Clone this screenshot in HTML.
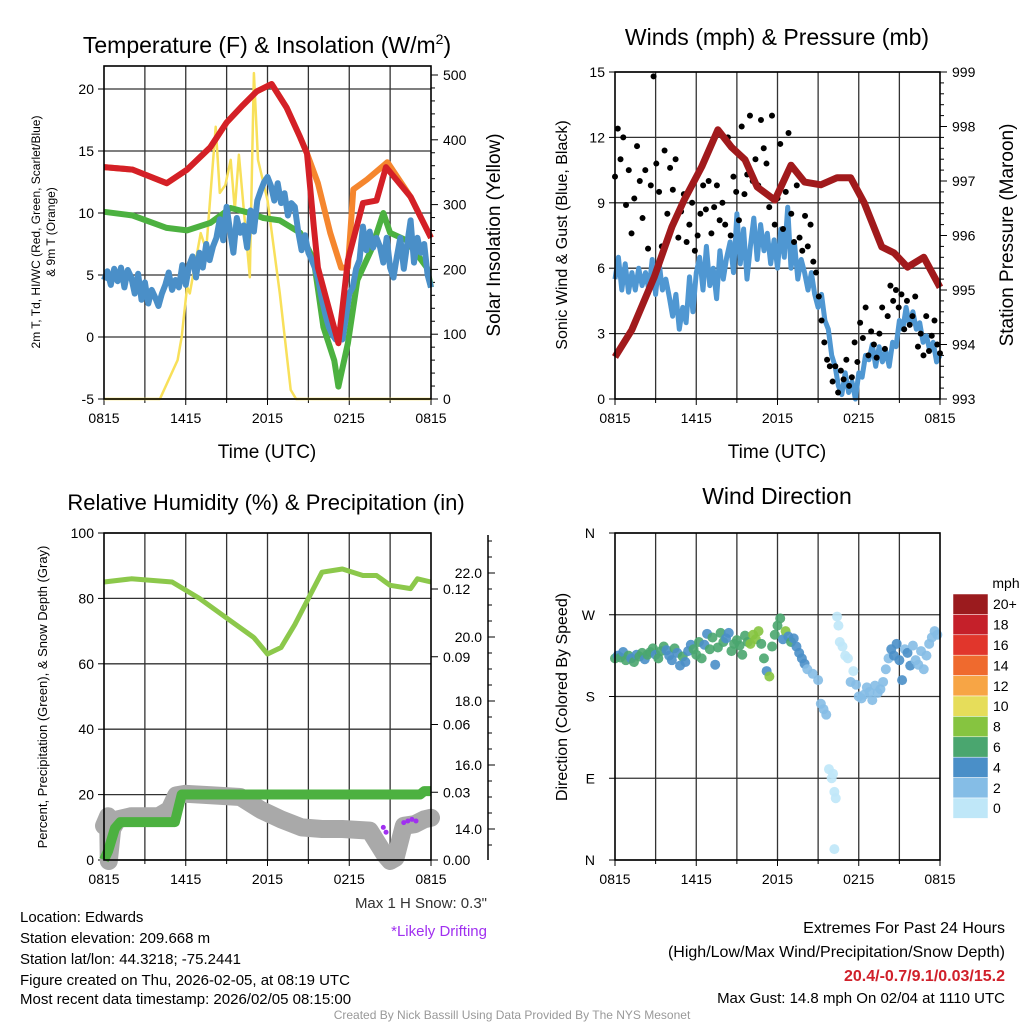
<!DOCTYPE html>
<html><head><meta charset="utf-8"><style>
body{margin:0;background:#fff}
svg{font-family:"Liberation Sans",sans-serif;display:block}
</style></head><body>
<svg id="s" width="1024" height="1024" viewBox="0 0 1024 1024">
<g id="g1"></g>
<g id="g2"></g>
<g id="g3"></g>
<g id="g4"></g>
<g id="txt">
<text x="20" y="922" font-size="15">Location: Edwards</text>
<text x="20" y="943" font-size="15">Station elevation: 209.668 m</text>
<text x="20" y="964" font-size="15">Station lat/lon: 44.3218; -75.2441</text>
<text x="20" y="985" font-size="15">Figure created on Thu, 2026-02-05, at 08:19 UTC</text>
<text x="20" y="1004" font-size="15">Most recent data timestamp: 2026/02/05 08:15:00</text>
<text x="487" y="908" font-size="15" fill="#333" text-anchor="end">Max 1 H Snow: 0.3"</text>
<text x="487" y="936" font-size="15" fill="#a030f0" text-anchor="end">*Likely Drifting</text>
<text x="1005" y="933" font-size="16" text-anchor="end">Extremes For Past 24 Hours</text>
<text x="1005" y="957" font-size="16" text-anchor="end">(High/Low/Max Wind/Precipitation/Snow Depth)</text>
<text x="1005" y="981" font-size="16" font-weight="bold" fill="#d0202a" text-anchor="end">20.4/-0.7/9.1/0.03/15.2</text>
<text x="1005" y="1003" font-size="15" text-anchor="end">Max Gust: 14.8 mph On 02/04 at 1110 UTC</text>
<text x="512" y="1019" font-size="12" fill="#999" text-anchor="middle">Created By Nick Bassill Using Data Provided By The NYS Mesonet</text>
</g>
</svg>
<script>
// ---------- data ----------
const xTickLabels=["0815","1415","2015","0215","0815"];
const tHours=[0,2.1,4.6,6.1,7.8,9,10.2,11.2,12.3,13.4,14.4,14.9,15.4,15.7,16.6,17.2,17.9,19,20,20.7,22.5,24];
const tempT=[13.7,13.5,12.4,13.5,15.3,17.3,18.7,19.8,20.4,18.5,16.1,14.8,8.9,5.6,1.9,-0.5,6.2,10.8,11,13.7,11.3,8];
const t9Hours=[0,2.1,4.6,6.1,7.8,9,10.2,11.2,12.3,13.4,14.4,14.9,15.7,16.6,17.4,17.9,18.3,19.3,20.8,22.5,24];
const temp9=[13.7,13.5,12.4,13.5,15.3,17.3,18.7,19.8,20.4,18.5,16.1,14.8,12.4,8.4,5.6,5.6,11.9,12.7,14.1,11.3,8];
const tdHours=[0,2.1,4.6,6.1,7.8,9.3,10.7,11.7,12.9,14.4,15.4,16.1,16.9,17.2,17.9,18.6,19.6,20.5,21,22.2,23.7,24];
const dewT=[10.1,9.8,8.8,8.6,9.2,10.4,10,9.6,9.4,8.4,6.2,0.8,-1.9,-4,-0.5,4.6,7,10,8.4,7.8,5.6,4];
const hiwc=[4.6,5.3,4.2,5.5,4.5,5.6,4.0,5.4,4.8,
3.5,5.1,3.0,4.4,2.7,3.8,3.2,2.5,
3.5,4.2,5.2,3.8,4.6,4.0,5.8,4.2,
5.8,6.5,4.8,6.8,5.6,7.5,6.2,7.3,
8.0,9.5,7.8,10.5,8.6,6.8,9.6,8.4,
9.0,7.2,10.2,8.5,11.0,11.8,12.5,12.9,
12.2,11.0,12.4,10.8,11.6,9.8,10.8,10.5,
8.5,7.0,8.2,6.8,6.2,5.5,4.5,3.0,
1.8,0.8,0.2,-0.2,0.0,-0.2,1.5,3.5,
4.0,5.5,6.2,8.9,7.0,8.5,7.2,8.0,
7.3,6.0,8.0,5.6,4.8,6.5,8.0,5.5,
7.5,9.4,6.0,8.0,6.8,7.5,5.0,4.0];
const solarHours=[0,4.1,5.4,5.7,6.1,6.3,7.1,7.5,8.2,8.5,8.9,9.3,9.6,9.9,10.7,11,11.3,12,12.9,13.7,14.1,24];
const solar=[0,0,60,96,173,163,256,230,420,318,330,369,292,377,188,503,369,307,163,14,0,0];
const solarTicks=[0,100,200,300,400,500];
const tempTicks=[-5,0,5,10,15,20];

const windSpd=[5.5,6.5,5.0,6.2,4.9,5.8,5.0,6.0,5.2,
5.8,5.0,6.4,4.8,6.3,5.0,5.5,4.7,
3.8,4.8,3.2,4.2,3.5,5.6,4.0,5.8,
6.5,5.0,7.0,5.2,6.0,4.6,6.8,5.5,
6.5,7.2,5.8,8.5,6.2,7.8,5.5,7.0,
8.3,6.4,8.0,6.8,7.6,6.2,7.3,6.0,
7.8,6.5,8.8,6.0,7.2,5.5,6.4,5.8,
5.0,5.8,4.8,4.2,4.8,3.6,3.2,2.0,
1.5,0.6,0.2,1.2,0.3,0.8,0.0,1.2,
1.0,2.0,1.8,2.5,1.5,2.4,1.7,2.2,
1.5,2.6,2.4,3.6,3.2,4.2,3.4,4.0,
3.2,3.5,2.6,2.9,2.2,2.6,1.7,2.0];
const gusts=[10.2,12.4,11.0,12.0,8.9,10.5,7.6,9.2,11.6,10.0,8.3,
10.5,6.9,9.8,14.8,10.8,9.5,7.0,11.4,8.5,
10.6,9.6,11.0,7.4,8.6,9.4,7.2,8.0,9.0,
6.8,7.5,8.5,9.8,8.7,10.0,7.6,8.8,9.8,8.2,
9.0,8.0,12.0,7.5,10.2,9.5,8.2,12.5,9.4,10.3,
13.0,10.0,11.0,9.8,12.8,11.5,10.8,8.8,13.0,8.0,
9.2,11.7,7.8,9.5,12.2,8.5,7.2,9.8,7.4,6.8,
8.4,7.0,8.0,6.3,5.8,4.7,3.6,2.6,1.8,1.5,
0.8,1.5,0.3,1.3,0.9,1.8,0.6,1.0,2.6,1.7,
3.5,2.8,4.2,2.0,3.1,2.5,1.9,3.0,4.2,2.3,
3.8,5.2,4.5,5.0,4.2,4.8,3.2,4.5,3.4,3.8,
4.7,2.4,3.0,2.0,3.8,2.2,2.9,3.6,2.5,2.1];
const presHours=[0,1.25,2.9,4.2,5.1,6.4,7.6,8.6,9.6,10.5,11.8,13,14,15.2,16.4,17.4,18.4,19.7,20.6,21.6,22.8,24];
const pressure=[993.77,994.27,995.24,996.16,996.65,997.26,997.94,997.62,997.39,996.89,996.65,997.29,996.98,996.93,997.06,997.06,996.6,995.79,995.68,995.42,995.6,995.05];
const windTicks=[0,3,6,9,12,15];
const presTicks=[993,994,995,996,997,998,999];

const rhHours=[0,2,5,7,9,11,12,13,14,15,16,17.5,19,20,21,22.5,23,24];
const rh=[85,86,85,80,74,68,63,65,72,80,88,89,87,87,84,83,86,85];
const precipHours=[0,0.3,0.8,1.2,5.2,5.7,23.2,23.5,24];
const precip=[0,0.004,0.014,0.0168,0.0168,0.029,0.029,0.0305,0.0305];
const snowHours=[0,0.3,0.35,0.6,1,2,4,4.8,5.3,6,8,10,11.5,13,14.5,16,17.5,19.5,20.6,21,21.4,22,22.8,23.5,24];
const snowDepth=[14.1,14.4,13.0,14.0,14.3,14.4,14.4,14.6,15.05,15.1,15.05,15.0,14.6,14.3,14.05,14.0,14.0,13.95,13.2,13.0,13.1,14.1,14.15,14.3,14.35];
const driftHours=[20.5,20.7,22.0,22.3,22.6,22.9];
const driftDepth=[14.05,13.9,14.2,14.25,14.3,14.25];
const rhTicks=[0,20,40,60,80,100];
const precipTicks=["0.00","0.03","0.06","0.09","0.12"];
const snowTicks=["14.0","16.0","18.0","20.0","22.0"];

const dirHours=[0,0.2,0.4,0.6,0.8,1,1.2,1.4,1.6,1.8,2,2.2,2.4,2.6,2.8,3,3.2,3.4,3.6,3.8,4,4.2,4.4,4.6,4.8,5,5.2,5.4,5.6,5.8,6,6.2,6.4,6.6,6.8,7,7.2,7.4,7.6,7.8,8,8.2,8.4,8.6,8.8,9,9.2,9.4,9.6,9.8,10,10.2,10.4,10.6,10.8,11,11.2,11.4,11.6,11.8,12,12.2,12.4,12.6,12.8,13,13.2,13.4,13.6,13.8,14,14.2,14.6,15,15.2,15.4,15.6,15.8,16,16.1,16.2,16.3,16.2,16.4,16.5,16.6,16.8,17,17.2,17.4,17.6,17.8,18,18.2,18.4,18.6,18.8,19,19.2,19.4,19.6,19.8,20,20.2,20.4,20.6,20.8,21,21.2,21.4,21.6,21.8,22,22.2,22.4,22.6,22.8,23,23.2,23.4,23.6,23.8];
const dirDeg=[222,225,223,229,220,225,222,218,226,224,228,221,226,229,233,226,222,230,235,231,225,220,233,228,214,224,218,230,237,232,226,240,222,237,249,232,245,215,234,250,240,244,250,230,238,242,236,226,247,240,238,248,243,252,238,222,208,202,235,248,258,266,243,252,246,240,244,235,228,222,216,210,205,198,172,166,160,100,90,95,75,68,12,268,258,240,235,225,222,196,208,193,180,178,182,190,185,176,192,184,188,196,210,222,232,225,238,220,198,232,228,214,236,220,215,230,210,225,238,245,252,248];
const dirSpd=[6,5,6,4,6,6,5,6,5,6,6,5,6,6,6,5,6,6,6,5,5,5,6,4,5,6,4,5,4,6,6,6,6,5,5,6,6,5,6,6,6,5,4,6,6,6,6,6,6,6,9,9,8,9,6,6,4,8,6,6,6,6,5,9,4,6,4,4,4,5,4,3,3,2,3,2,2,1,1,1,1,1,1,1,1,1,1,1,1,2,1,3,3,3,2,3,2,2,2,3,2,3,3,3,4,5,4,5,4,3,4,4,3,2,3,3,2,2,3,2,3,2];
const cbLabels=["20+","18","16","14","12","10","8","6","4","2","0"];
const cbColors=["#9b1b1e","#c5202a","#e1362c","#ef6a2e","#f7a545","#e6dd5a","#86c440","#4aa66f","#4a8fc8","#85bde6","#bfe7f8"];

// ---------- helpers ----------
const NS="http://www.w3.org/2000/svg";
function mk(parent,tag,attrs,name,txt){const e=document.createElementNS(NS,tag);for(const k in attrs)e.setAttribute(k,attrs[k]);


if(txt!==undefined)e.textContent=txt;parent.appendChild(e);return e;}
function lin(d0,d1,r0,r1){return v=>r0+(v-d0)/(d1-d0)*(r1-r0);}
function pathOf(xs,ys,fx,fy){return xs.map((h,i)=>(i?'L':'M')+fx(h).toFixed(1)+','+fy(ys[i]).toFixed(1)).join('');}
function frame(g,L,T,R,B,xf){
  for(let h=3;h<24;h+=3){mk(g,'line',{x1:xf(h),x2:xf(h),y1:T,y2:B,stroke:'#333','stroke-width':1.3},'v-grid');}
  xTickLabels.forEach((l,i)=>{const x=xf(i*6);mk(g,'line',{x1:x,x2:x,y1:B,y2:B+6,stroke:'#000'},'x-tick');
    mk(g,'text',{x:x,y:B+24,'font-size':14,'text-anchor':'middle'},'x-tick-label',l);});
  for(let h=3;h<24;h+=3){if(h%6)mk(g,'line',{x1:xf(h),x2:xf(h),y1:B,y2:B+4,stroke:'#000'},'x-minor-tick');}
}
function box(g,L,T,R,B){mk(g,'rect',{x:L,y:T,width:R-L,height:B-T,fill:'none',stroke:'#000','stroke-width':1.6},'plot-frame');}
function vtext(g,x,y,s,size,name){const t=mk(g,'text',{x:0,y:0,'font-size':size,'text-anchor':'middle',transform:`translate(${x},${y}) rotate(-90)`},name,s);return t;}

// ---------- panel 1 ----------
(function(){const g=document.getElementById('g1');const L=104,R=431,T=66,B=399;
 const xf=lin(0,24,L,R),yf=lin(-5,20,399,89),ys=lin(0,500,399,75);
 frame(g,L,T,R,B,xf);
 tempTicks.forEach(v=>{const y=yf(v);mk(g,'line',{x1:L,x2:R,y1:y,y2:y,stroke:'#333','stroke-width':1.3},'h-grid');
  mk(g,'line',{x1:L-6,x2:L,y1:y,y2:y,stroke:'#000'},'y-tick');
  mk(g,'text',{x:L-10,y:y+5,'font-size':14,'text-anchor':'end'},'y-tick-label',v);});
 for(let v=0;v<=520;v+=20){const y=ys(v);if(y<T)continue;const maj=v%100===0;mk(g,'line',{x1:R,x2:R+(maj?7:4),y1:y,y2:y,stroke:'#000'},'y2-tick');
  if(maj)mk(g,'text',{x:R+12,y:y+5,'font-size':14},'y2-tick-label',v);}
 mk(g,'path',{d:pathOf(solarHours,solar,xf,ys),fill:'none',stroke:'#f8e05a','stroke-width':2.5,'stroke-linejoin':'round'},'solar-line');
 mk(g,'path',{d:pathOf(tdHours,dewT,xf,yf),fill:'none',stroke:'#4cb140','stroke-width':6,'stroke-linejoin':'round'},'dewpoint-line');
 mk(g,'path',{d:pathOf(hiwc.map((_,i)=>i*0.25),hiwc,xf,yf),fill:'none',stroke:'#4a8fc8','stroke-width':6,'stroke-linejoin':'round'},'windchill-line');
 mk(g,'path',{d:pathOf(t9Hours,temp9,xf,yf),fill:'none',stroke:'#f5862e','stroke-width':6,'stroke-linejoin':'round'},'temp-9m-line');
 mk(g,'path',{d:pathOf(tHours,tempT,xf,yf),fill:'none',stroke:'#d42027','stroke-width':6,'stroke-linejoin':'round'},'temp-2m-line');
 box(g,L,T,R,B);
 const t=mk(g,'text',{x:267,y:53,'font-size':23,'text-anchor':'middle'},'title','Temperature (F) & Insolation (W/m');
 const sp=document.createElementNS(NS,'tspan');sp.setAttribute('dy','-9');sp.setAttribute('font-size','14');sp.textContent='2';t.appendChild(sp);
 const sp2=document.createElementNS(NS,'tspan');sp2.setAttribute('dy','9');sp2.textContent=')';t.appendChild(sp2);
 mk(g,'text',{x:267,y:458,'font-size':19,'text-anchor':'middle'},'x-axis-title','Time (UTC)');
 vtext(g,40,232,'2m T, Td, HI/WC (Red, Green, Scarlet/Blue)',12,'y-axis-title');
 vtext(g,55,232,'& 9m T (Orange)',12,'y-axis-title-2');
 vtext(g,500,235,'Solar Insolation (Yellow)',19,'y2-axis-title');
})();

// ---------- panel 2 ----------
(function(){const g=document.getElementById('g2');const L=615,R=940,T=72,B=399;
 const xf=lin(0,24,L,R),yf=lin(0,15,399,72),yp=lin(993,999,399,72);
 frame(g,L,T,R,B,xf);
 windTicks.forEach(v=>{const y=yf(v);mk(g,'line',{x1:L,x2:R,y1:y,y2:y,stroke:'#333','stroke-width':1.3},'h-grid');
  mk(g,'line',{x1:L-6,x2:L,y1:y,y2:y,stroke:'#000'},'y-tick');
  mk(g,'text',{x:L-10,y:y+5,'font-size':14,'text-anchor':'end'},'y-tick-label',v);});
 for(let v=993;v<=999.001;v+=0.2){const y=yp(v);const maj=Math.abs(v-Math.round(v))<0.01;mk(g,'line',{x1:R,x2:R+(maj?7:4),y1:y,y2:y,stroke:'#000'},'y2-tick');
  if(maj)mk(g,'text',{x:R+12,y:y+5,'font-size':14},'y2-tick-label',Math.round(v));}
 mk(g,'path',{d:pathOf(windSpd.map((_,i)=>i*0.25),windSpd,xf,yf),fill:'none',stroke:'#4f97d2','stroke-width':5,'stroke-linejoin':'round'},'wind-line');
 gusts.forEach((v,i)=>{mk(g,'circle',{cx:xf(i*24/(gusts.length-1)),cy:yf(v),r:3,fill:'#000'},'gust-point');});
 mk(g,'path',{d:pathOf(presHours,pressure,xf,yp),fill:'none',stroke:'#a11a1c','stroke-width':7,'stroke-linejoin':'round'},'pressure-line');
 box(g,L,T,R,B);
 mk(g,'text',{x:777,y:45,'font-size':23,'text-anchor':'middle'},'title','Winds (mph) & Pressure (mb)');
 mk(g,'text',{x:777,y:458,'font-size':19,'text-anchor':'middle'},'x-axis-title','Time (UTC)');
 vtext(g,567,235,'Sonic Wind & Gust (Blue, Black)',16,'y-axis-title');
 vtext(g,1013,235,'Station Pressure (Maroon)',19,'y2-axis-title');
})();

// ---------- panel 3 ----------
(function(){const g=document.getElementById('g3');const L=104,R=431,T=533,B=860;
 const xf=lin(0,24,L,R),yf=lin(0,100,860,533),ypr=lin(0,0.12,860,589),ysn=lin(14,22,829,573);
 frame(g,L,T,R,B,xf);
 rhTicks.forEach(v=>{const y=yf(v);mk(g,'line',{x1:L,x2:R,y1:y,y2:y,stroke:'#333','stroke-width':1.3},'h-grid');
  mk(g,'line',{x1:L-6,x2:L,y1:y,y2:y,stroke:'#000'},'y-tick');
  mk(g,'text',{x:L-10,y:y+5,'font-size':14,'text-anchor':'end'},'y-tick-label',v);});
 precipTicks.forEach(v=>{const y=ypr(+v);mk(g,'line',{x1:R,x2:R+7,y1:y,y2:y,stroke:'#000'},'precip-tick');
  mk(g,'text',{x:R+12,y:y+5,'font-size':14},'precip-tick-label',v);});
 mk(g,'line',{x1:488,x2:488,y1:535,y2:860,stroke:'#000','stroke-width':1.5},'snow-axis');
 for(let v=13;v<=23;v+=0.5){const y=ysn(v);if(y<535||y>860)continue;const maj=Math.abs(v%2)<0.01;mk(g,'line',{x1:488,x2:488+(maj?7:4),y1:y,y2:y,stroke:'#000'},'snow-tick');}
 snowTicks.forEach(v=>{const y=ysn(+v);mk(g,'text',{x:482,y:y+5,'font-size':14,'text-anchor':'end'},'snow-tick-label',v);});
 mk(g,'path',{d:pathOf(snowHours,snowDepth,xf,ysn),fill:'none',stroke:'#a9a9a9','stroke-width':18,'stroke-linejoin':'round','stroke-linecap':'round'},'snow-depth-line');
 mk(g,'path',{d:pathOf(precipHours,precip,xf,ypr),fill:'none',stroke:'#4cb140','stroke-width':10,'stroke-linejoin':'round'},'precip-line');
 mk(g,'path',{d:pathOf(rhHours,rh,xf,yf),fill:'none',stroke:'#8cc84b','stroke-width':5,'stroke-linejoin':'round'},'rh-line');
 driftHours.forEach((h,i)=>{mk(g,'circle',{cx:xf(h),cy:ysn(driftDepth[i]),r:2.5,fill:'#a030f0'},'drift-point');});
 box(g,L,T,R,B);
 mk(g,'text',{x:266,y:510,'font-size':22,'text-anchor':'middle'},'title','Relative Humidity (%) & Precipitation (in)');
 vtext(g,47,697,'Percent, Precipitation (Green), & Snow Depth (Gray)',13,'y-axis-title');
})();

// ---------- panel 4 ----------
(function(){const g=document.getElementById('g4');const L=615,R=940,T=533,B=860;
 const xf=lin(0,24,L,R),yf=lin(0,360,860,533);
 frame(g,L,T,R,B,xf);
 ["N","E","S","W","N"].forEach((l,i)=>{const y=yf(i*90);mk(g,'line',{x1:L,x2:R,y1:y,y2:y,stroke:'#333','stroke-width':1.3},'h-grid');
  mk(g,'line',{x1:L-6,x2:L,y1:y,y2:y,stroke:'#000'},'y-tick');
  mk(g,'text',{x:L-20,y:y+5,'font-size':14,'text-anchor':'end'},'y-tick-label',l);});
 function col(s){const idx=Math.min(10,Math.floor(s/2));return cbColors[10-idx];}
 dirHours.forEach((h,i)=>{mk(g,'circle',{cx:xf(h),cy:yf(dirDeg[i]),r:5,fill:col(dirSpd[i]),'fill-opacity':0.9},'direction-point');});
 box(g,L,T,R,B);
 mk(g,'text',{x:777,y:504,'font-size':23,'text-anchor':'middle'},'title','Wind Direction');
 vtext(g,567,697,'Direction (Colored By Speed)',16,'y-axis-title');
 mk(g,'text',{x:1006,y:588,'font-size':14,'text-anchor':'middle'},'colorbar-unit','mph');
 const cT=594,hh=20.4;
 cbColors.forEach((c,i)=>{mk(g,'rect',{x:953,y:cT+i*hh,width:35,height:hh,fill:c,stroke:'#fff','stroke-width':0.5},'colorbar-box');
  mk(g,'text',{x:993,y:cT+i*hh+hh/2+5,'font-size':14},'colorbar-label',cbLabels[i]);});
})();
</script>
</body></html>
